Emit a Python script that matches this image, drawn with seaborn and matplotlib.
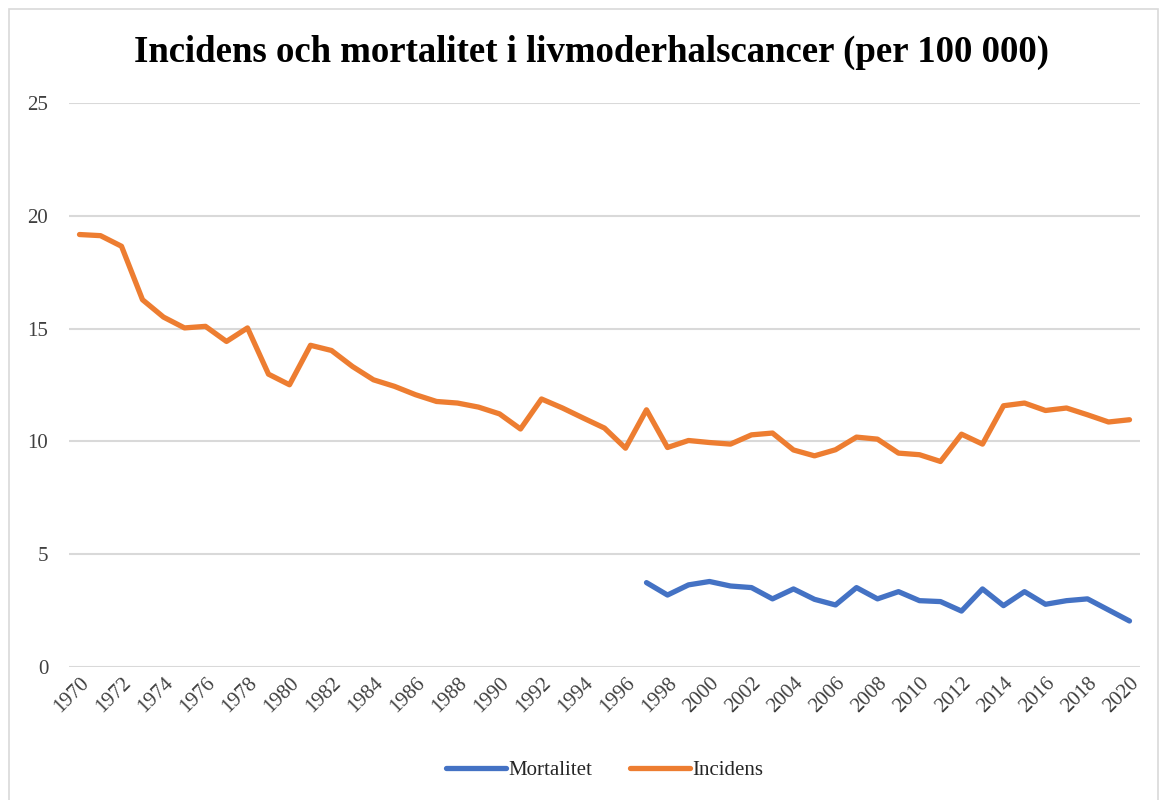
import numpy as np
import pandas as pd
import matplotlib.pyplot as plt
import seaborn as sns
from matplotlib.patches import Rectangle

# data
years_inc = list(range(1970, 2021))
incidens = [19.17, 19.12, 18.65, 16.28, 15.51, 15.03, 15.10, 14.43, 15.03, 12.98,
            12.51, 14.26, 14.03, 13.32, 12.73, 12.44, 12.07, 11.77, 11.70, 11.52,
            11.22, 10.55, 11.88, 11.48, 11.03, 10.59, 9.70, 11.40, 9.73, 10.04,
            9.95, 9.88, 10.29, 10.37, 9.62, 9.36, 9.63, 10.19, 10.10, 9.48,
            9.41, 9.11, 10.32, 9.88, 11.58, 11.70, 11.37, 11.48, 11.18, 10.86,
            10.96]
years_mort = list(range(1997, 2021))
mortalitet = [3.74, 3.19, 3.64, 3.79, 3.59, 3.52, 3.02, 3.46, 3.00, 2.75,
              3.52, 3.02, 3.34, 2.94, 2.90, 2.48, 3.46, 2.72, 3.34, 2.78,
              2.94, 3.02, 2.53, 2.04]
tick_years = list(range(1970, 2021, 2))

df = pd.concat([
    pd.DataFrame({"År": years_mort, "Värde": mortalitet, "Serie": "Mortalitet"}),
    pd.DataFrame({"År": years_inc, "Värde": incidens, "Serie": "Incidens"}),
])

sns.set_style("white")
plt.rcParams['font.family'] = ['Liberation Serif', 'DejaVu Serif']

fig = plt.figure(figsize=(11.67, 8), dpi=100)
ax = fig.add_axes([69 / 1167, 1 - 667 / 800, (1140 - 69) / 1167, (667 - 103) / 800])

sns.lineplot(data=df, x="År", y="Värde", hue="Serie",
             palette={"Mortalitet": "#4472C4", "Incidens": "#ED7D31"},
             linewidth=3.8, ax=ax, solid_capstyle='round', solid_joinstyle='round')

ax.set_xlim(1969.5, 2020.5)
ax.set_ylim(0, 25)
ax.set_yticks([0, 5, 10, 15, 20, 25])
ax.set_xticks(tick_years)
ax.set_xticklabels([str(y) for y in tick_years], rotation=45, ha='right',
                   rotation_mode='anchor', fontsize=15, color='#404040')
ax.tick_params(axis='y', labelsize=15, labelcolor='#404040', length=0, pad=15)
ax.tick_params(axis='x', length=0, pad=5)
ax.grid(axis='y', color='#D9D9D9', linewidth=1.5)
ax.set_axisbelow(True)
for s in ax.spines.values():
    s.set_visible(False)
ax.set_xlabel('')
ax.set_ylabel('')

fig.text(591 / 1167, 1 - 52 / 800, 'Incidens och mortalitet i livmoderhalscancer (per 100 000)',
         ha='center', va='center', fontsize=26.5, fontweight='bold', color='black')

leg = ax.legend(loc='center', bbox_to_anchor=(0.5, (667 - 770) / (667 - 103)),
                ncol=2, frameon=False, fontsize=15, handlelength=2.9,
                columnspacing=1.8, handletextpad=0.1)
for line in leg.get_lines():
    line.set_linewidth(3.8)

fig.patches.append(Rectangle((9 / 1167, -0.01), (1158 - 9) / 1167, 1 - 9 / 800 + 0.01,
                             transform=fig.transFigure, fill=False,
                             edgecolor='#D9D9D9', linewidth=1.2))

plt.savefig('out.png', dpi=100)
